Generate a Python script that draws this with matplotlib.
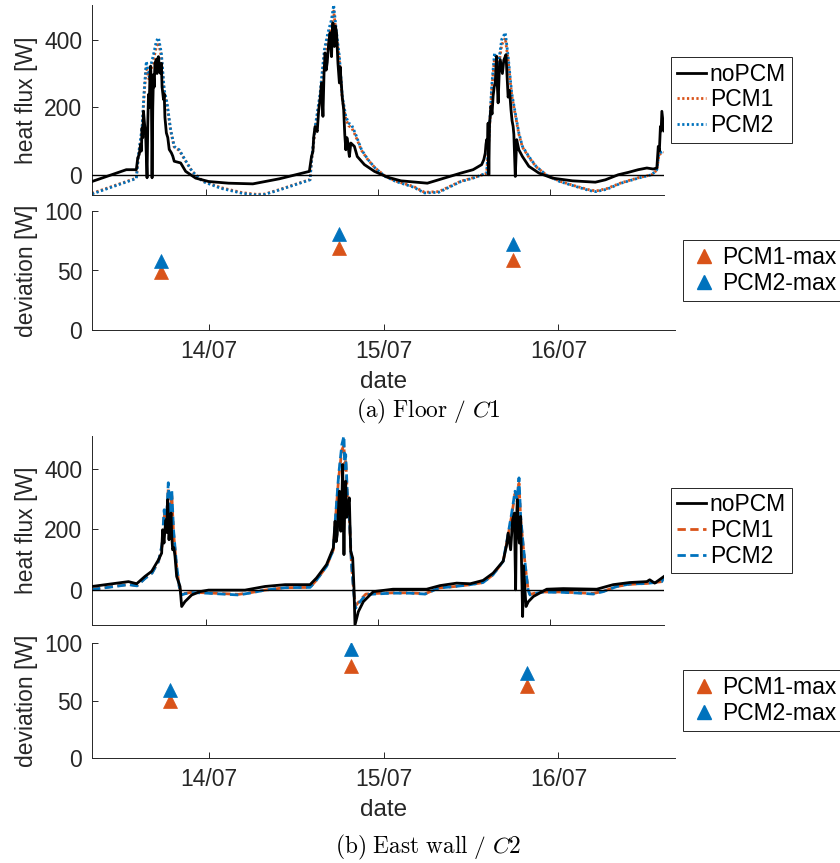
import pandas as pd
import matplotlib
matplotlib.use("Agg")
import matplotlib.pyplot as plt
import matplotlib.dates as mdates
from matplotlib.lines import Line2D

# time in hours after 13/07 08:00, value in W
START = pd.Timestamp("2019-07-13 08:00")
SPAN_H = 80

floor_nopcm = [
    (0, -20), (4.8, 15), (6.2, 15), (6.4, 50), (6.6, 60), (6.8, 90), (6.9, 70),
    (7.0, 139), (7.1, 110), (7.2, 188), (7.35, 150), (7.5, 120), (7.6, 60),
    (7.7, -9), (7.8, 150), (7.9, 238), (8.0, 200), (8.1, 290), (8.2, 322),
    (8.3, 250), (8.4, -9), (8.5, 200), (8.6, 297), (8.7, 260), (8.8, 330),
    (9.0, 342), (9.1, 300), (9.2, 345), (9.3, 350), (9.45, 310), (9.6, 300),
    (9.7, 330), (9.8, 260), (10.0, 223), (10.1, 240), (10.2, 170), (10.4, 124),
    (10.6, 110), (10.8, 75), (11.1, 65), (11.3, 55), (11.5, 40), (12.4, 35),
    (13.1, 10), (14.5, -10), (16.3, -20), (19.1, -25), (22.5, -27), (26.2, -12),
    (30.4, 10), (30.7, 54), (30.9, 69), (31.0, 110), (31.2, 143), (31.5, 128),
    (31.7, 190), (31.9, 223), (32.1, 272), (32.2, 230), (32.3, 173), (32.45, 300),
    (32.6, 361), (32.75, 310), (32.9, 333), (33.1, 390), (33.3, 421), (33.4, 380),
    (33.5, 350), (33.6, 420), (33.7, 450), (33.8, 400), (33.9, 380), (34.05, 440),
    (34.2, 421), (34.4, 330), (34.6, 272), (34.7, 320), (34.8, 290), (35.0, 230),
    (35.2, 193), (35.35, 120), (35.5, 74), (35.65, 110), (35.8, 94), (35.9, 70),
    (36.0, 54), (36.2, 94), (36.7, 84), (37.1, 54), (38.1, 30), (39.5, 10),
    (41.3, -7), (43.2, -18), (46.9, -25), (51.6, 5), (53.3, 15), (54.5, 30),
    (54.8, 45), (55.0, 64), (55.1, 90), (55.2, 104), (55.3, 80), (55.4, 153),
    (55.5, 0), (55.6, 150), (55.8, 203), (55.95, 180), (56.1, 233), (56.25, 260),
    (56.4, 272), (56.5, 320), (56.6, 351), (56.7, 260), (56.8, 213), (56.95, 300),
    (57.1, 341), (57.25, 320), (57.4, 300), (57.6, 340), (57.9, 356), (58.05, 290),
    (58.2, 230), (58.4, 250), (58.6, 193), (58.75, 160), (58.9, 143), (59.0, 120),
    (59.2, -5), (59.4, 104), (59.7, 74), (60.2, 54), (61.1, 25), (62.5, 5),
    (64.4, -10), (67.2, -18), (70.4, -22), (71.8, -15), (73.6, 0), (75.0, 7),
    (76.4, 15), (77.6, 20), (78.5, 17), (79.0, 20), (79.2, 84), (79.35, 70),
    (79.5, 143), (79.6, 130), (79.7, 188), (80.0, 130),
]
floor_pcm1 = [
    (0, -55), (6.2, -10), (6.5, 55), (7.0, 130), (7.3, 240), (7.6, 320), (8.0, 280),
    (8.3, 315), (8.6, 340), (9.0, 380), (9.3, 392), (9.7, 350), (10.1, 245),
    (10.5, 205), (11.0, 130), (11.5, 82), (12.2, 72), (13.0, 44), (14.0, 10),
    (15.5, -19), (18, -38), (21, -53), (23, -58), (24.2, -57), (26.2, -44),
    (30.5, -14), (30.7, 40), (31.2, 130), (31.9, 230), (32.5, 355), (33.0, 405),
    (33.5, 445), (33.8, 485), (34.2, 410), (34.6, 340), (35.0, 225), (35.5, 165),
    (35.9, 145), (36.3, 140), (36.8, 118), (37.7, 72), (38.6, 44), (39.6, 20),
    (41.0, -4), (42.5, -19), (45, -35), (46.5, -52), (48.5, -50), (51.6, -19),
    (53.3, -9), (55.2, 4), (55.5, 100), (55.9, 250), (56.3, 345), (56.8, 310),
    (57.3, 385), (57.8, 405), (58.2, 340), (58.7, 235), (59.2, 178), (59.7, 120),
    (60.2, 82), (61.1, 52), (62.1, 24), (63.5, 0), (65.4, -19), (67.7, -34),
    (69.6, -45), (70.5, -48), (72, -41), (74, -24), (76.4, -9), (78.3, 0),
    (79.0, 14), (79.3, 60), (80, 66),
]
floor_pcm2 = [
    (0, -57), (6.2, -11), (6.5, 60), (7.0, 140), (7.3, 250), (7.6, 336), (8.0, 290),
    (8.3, 330), (8.6, 356), (9.0, 396), (9.3, 406), (9.7, 361), (10.1, 252),
    (10.5, 213), (11.0, 134), (11.5, 84), (12.2, 74), (13.0, 45), (14.0, 10),
    (15.5, -20), (18, -40), (21, -55), (23, -60), (24.2, -58), (26.2, -45),
    (30.5, -15), (30.7, 44), (31.2, 140), (31.9, 240), (32.5, 371), (33.0, 421),
    (33.5, 460), (33.8, 503), (34.2, 421), (34.6, 351), (35.0, 233), (35.5, 173),
    (35.9, 153), (36.3, 148), (36.8, 124), (37.7, 74), (38.6, 45), (39.6, 20),
    (41.0, -5), (42.5, -20), (45, -37), (46.5, -54), (48.5, -52), (51.6, -20),
    (53.3, -10), (55.2, 5), (55.5, 104), (55.9, 262), (56.3, 361), (56.8, 322),
    (57.3, 401), (57.8, 421), (58.2, 351), (58.7, 242), (59.2, 183), (59.7, 124),
    (60.2, 84), (61.1, 54), (62.1, 25), (63.5, 0), (65.4, -20), (67.7, -35),
    (69.6, -47), (70.5, -50), (72, -43), (74, -25), (76.4, -10), (78.3, 0),
    (79.0, 15), (79.3, 64), (80, 70),
]

wall_nopcm = [
    (0, 12), (5.1, 28), (6.25, 21), (7.4, 45), (8.35, 62), (9.3, 100), (9.74, 122),
    (9.88, 199), (10.07, 155), (10.2, 200), (10.35, 232), (10.45, 190),
    (10.58, 298), (10.77, 166), (10.9, 210), (11.05, 254), (11.15, 180),
    (11.28, 133), (11.45, 140), (11.61, 111), (11.84, 45), (12.31, 12),
    (12.54, -54), (13.0, -38), (13.94, -16), (15.1, -5), (16.3, 0), (21.4, 0),
    (24.2, 12), (27.0, 18), (30.5, 18), (31.4, 40), (32.8, 84), (33.75, 139),
    (34.0, 227), (34.15, 160), (34.3, 183), (34.45, 260), (34.6, 326), (34.8, 194),
    (34.95, 300), (35.06, 414), (35.15, 250), (35.24, 117), (35.35, 280),
    (35.48, 359), (35.62, 240), (35.76, 271), (35.99, 304), (36.1, 200),
    (36.18, 128), (36.46, 106), (36.64, 7), (36.78, -115), (37.25, -71),
    (37.95, -38), (39.35, -5), (42.1, 3), (46.8, 3), (48.7, 15), (51.0, 23),
    (52.9, 21), (54.7, 32), (56.1, 56), (57.5, 95), (58.0, 150), (58.2, 188),
    (58.55, 133), (58.83, 232), (59.07, 254), (59.25, 1), (59.35, 220),
    (59.49, 298), (59.6, 200), (59.77, 155), (59.95, 243), (60.1, 60),
    (60.23, -87), (60.35, 80), (60.47, 34), (60.7, -54), (61.03, -38),
    (61.73, -21), (63.6, 3), (65.9, 5), (70.6, 3), (72.9, 18), (75.2, 25),
    (77.6, 28), (78.0, 34), (78.7, 23), (80.0, 45),
]
wall_pcm1 = [
    (0, 3), (5.1, 19), (6.3, 15), (7.4, 39), (8.4, 57), (9.3, 94), (9.8, 145),
    (10.1, 255), (10.35, 195), (10.67, 335), (10.9, 240), (11.15, 318),
    (11.4, 190), (11.8, 85), (12.2, 12), (12.5, -14), (13.0, -11), (14, -7),
    (16, -9), (20.5, -14), (22, -9), (24.2, 0), (27, 8), (30.5, 9), (31.4, 33),
    (32.8, 78), (33.75, 133), (34.05, 232), (34.5, 370), (34.95, 462),
    (35.24, 478), (35.35, 390), (35.48, 430), (35.7, 318), (36.0, 232),
    (36.3, 82), (36.64, -13), (36.85, -52), (37.5, -33), (38.3, -13),
    (39.5, -11), (42, -9), (44.4, -9), (46.6, -12), (48.5, 7), (50.8, 12),
    (52.9, 18), (54.7, 25), (56.1, 51), (57.5, 94), (58.14, 172), (58.7, 246),
    (59.16, 318), (59.45, 292), (59.72, 352), (59.95, 236), (60.3, 146),
    (60.7, 58), (61.0, 0), (61.26, -14), (61.96, -10), (62.9, -6), (65.45, -6),
    (68.25, -9), (70.1, -11), (71.5, -4), (73.4, 12), (75.2, 19), (77.6, 22),
    (79.7, 28), (80, 42),
]
wall_pcm2 = [
    (0, 2), (5.1, 18), (6.3, 14), (7.4, 38), (8.4, 56), (9.3, 95), (9.8, 150),
    (10.1, 265), (10.35, 200), (10.67, 354), (10.9, 250), (11.15, 332),
    (11.4, 199), (11.8, 89), (12.2, 12), (12.5, -16), (13.0, -12), (14, -8),
    (16, -10), (20.5, -16), (22, -10), (24.2, 0), (27, 8), (30.5, 9), (31.4, 33),
    (32.8, 78), (33.75, 133), (34.05, 238), (34.5, 381), (34.95, 480),
    (35.24, 508), (35.35, 400), (35.48, 447), (35.7, 326), (36.0, 238),
    (36.3, 84), (36.64, -15), (36.85, -60), (37.5, -38), (38.3, -15),
    (39.5, -13), (42, -10), (44.4, -10), (46.6, -13), (48.5, 7), (50.8, 12),
    (52.9, 18), (54.7, 25), (56.1, 51), (57.5, 95), (58.14, 177), (58.7, 254),
    (59.16, 326), (59.45, 300), (59.72, 370), (59.95, 243), (60.3, 150),
    (60.7, 60), (61.0, 0), (61.26, -16), (61.96, -11), (62.9, -7), (65.45, -7),
    (68.25, -10), (70.1, -13), (71.5, -5), (73.4, 12), (75.2, 20), (77.6, 22),
    (79.7, 28), (80, 43),
]

# maximum deviation per day
floor_dev_t = [9.5, 33.9, 57.8]
floor_dev_pcm1 = [49, 69, 59]
floor_dev_pcm2 = [58, 81, 72]
wall_dev_t = [10.7, 35.5, 59.7]
wall_dev_pcm1 = [50, 80, 63]
wall_dev_pcm2 = [59, 95, 74]

ORANGE = "#D95319"
BLUE = "#0072BD"
GREY = "#262626"
FS = 16.5


def to_dates(hours):
    return START + pd.to_timedelta(list(hours), unit="h")


def style_axes(ax):
    for side in ("top", "right"):
        ax.spines[side].set_visible(False)
    for side in ("left", "bottom"):
        ax.spines[side].set_color(GREY)
        ax.spines[side].set_linewidth(0.7)
    ax.tick_params(direction="in", length=4, width=0.7, colors=GREY,
                   labelsize=FS, pad=7)
    ax.set_xlim(START, START + pd.Timedelta(hours=SPAN_H))
    ax.xaxis.set_major_locator(mdates.DayLocator())
    ax.xaxis.set_major_formatter(mdates.DateFormatter("%d/%m"))


def legend(ax, handles, labels, x):
    leg = ax.legend(handles, labels, loc="center left", bbox_to_anchor=(x, 0.5),
                    fontsize=FS, frameon=True, fancybox=False, framealpha=1,
                    edgecolor=GREY, borderpad=0.25, handlelength=1.3,
                    handletextpad=0.15, labelspacing=0.12, borderaxespad=0)
    leg.get_frame().set_linewidth(0.7)


def flux_panel(ax, nopcm, pcm1, pcm2, ls):
    ax.margins(0)
    lines = []
    for pts, color, style, z in ((nopcm, "black", "-", 3),
                                 (pcm1, ORANGE, ls, 2),
                                 (pcm2, BLUE, ls, 2)):
        t, v = zip(*pts)
        ln, = ax.plot(to_dates(t), v, color=color, ls=style, lw=2, zorder=z)
        lines.append(ln)
    ax.axhline(0, color="black", lw=1, zorder=4)
    style_axes(ax)
    vals = [p[1] for s in (nopcm, pcm1, pcm2) for p in s]
    ax.set_ylim(min(vals), max(vals))
    ax.set_yticks([0, 200, 400])
    ax.tick_params(labelbottom=False)
    ax.set_ylabel("heat flux [W]", fontsize=FS, color=GREY)
    ax.yaxis.set_label_coords(-0.095, 0.5)
    legend(ax, lines, ["noPCM", "PCM1", "PCM2"], 1.012)


def dev_panel(ax, t, d1, d2, label_y):
    ax.plot(to_dates(t), d1, ls="none", marker="^", ms=9.5, color=ORANGE, mew=0.5)
    ax.plot(to_dates(t), d2, ls="none", marker="^", ms=9.5, color=BLUE, mew=0.5)
    style_axes(ax)
    ax.set_ylim(0, 100)
    ax.set_yticks([0, 50, 100])
    ax.set_ylabel("deviation [W]", fontsize=FS, color=GREY)
    ax.yaxis.set_label_coords(-0.093, 0.5)
    ax.set_xlabel("date", fontsize=FS + 1, color=GREY)
    ax.xaxis.set_label_coords(0.5, label_y)
    handles = [Line2D([], [], ls="none", marker="^", ms=9.5, color=c)
               for c in (ORANGE, BLUE)]
    legend(ax, handles, ["PCM1-max", "PCM2-max"], 1.014)


plt.rcParams["font.family"] = ["Liberation Sans", "DejaVu Sans"]
plt.rcParams["mathtext.fontset"] = "cm"

W, H = 840, 863
fig = plt.figure(figsize=(W / 100, H / 100), dpi=100)


def box(left, top, right, bottom):
    return [left / W, 1 - bottom / H, (right - left) / W, (bottom - top) / H]


ax1 = fig.add_axes(box(92, 5, 664, 195))
ax2 = fig.add_axes(box(92, 211, 675, 330))
ax3 = fig.add_axes(box(92, 436, 664, 625))
ax4 = fig.add_axes(box(92, 643, 675, 758))

dotted = (0, (0.8, 0.9))
dashed = (0, (3, 1.6))
flux_panel(ax1, floor_nopcm, floor_pcm1, floor_pcm2, dotted)
dev_panel(ax2, floor_dev_t, floor_dev_pcm1, floor_dev_pcm2, -0.345)
flux_panel(ax3, wall_nopcm, wall_pcm1, wall_pcm2, dashed)
dev_panel(ax4, wall_dev_t, wall_dev_pcm1, wall_dev_pcm2, -0.36)

fig.text(428 / W, 1 - 411 / H, r"$\mathrm{(a)\ Floor\ /\ }C1$", ha="center",
         va="center", fontsize=16.8)
fig.text(428 / W, 1 - 847 / H, r"$\mathrm{(b)\ East\ wall\ /\ }C2$", ha="center",
         va="center", fontsize=16.8)

fig.savefig("out.png", dpi=100)
